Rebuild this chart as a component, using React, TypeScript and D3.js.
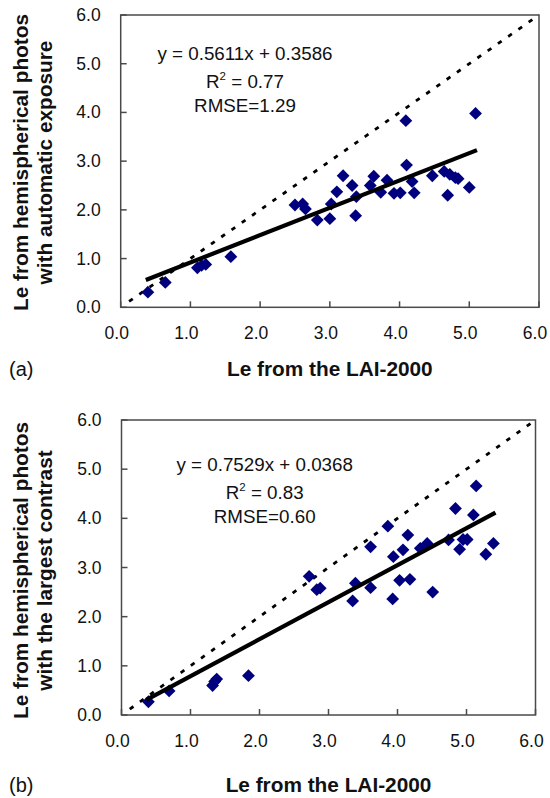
import React from "react";
import * as d3 from "d3";

const tickValues = [0, 1, 2, 3, 4, 5, 6];
const tickLabels = ["0.0", "1.0", "2.0", "3.0", "4.0", "5.0", "6.0"];

const topX = [0.39, 0.64, 1.10, 1.16, 1.22, 1.58, 2.50, 2.61, 2.65, 2.82, 3.00, 3.02, 3.10, 3.19, 3.32, 3.38, 3.37, 3.58, 3.63, 3.73, 3.82, 3.92, 4.01, 4.09, 4.10, 4.18, 4.21, 4.47, 4.64, 4.69, 4.72, 4.80, 4.84, 5.00, 5.09];
const topY = [0.31, 0.51, 0.81, 0.86, 0.88, 1.04, 2.10, 2.12, 2.02, 1.79, 1.82, 2.12, 2.37, 2.70, 2.50, 2.27, 1.88, 2.50, 2.69, 2.36, 2.61, 2.34, 2.35, 3.83, 2.92, 2.58, 2.35, 2.70, 2.79, 2.30, 2.73, 2.66, 2.64, 2.46, 3.98];

const bottomX = [0.39, 0.69, 1.32, 1.35, 1.38, 1.84, 2.72, 2.83, 2.88, 3.35, 3.39, 3.61, 3.61, 3.86, 3.93, 3.94, 4.03, 4.08, 4.15, 4.18, 4.33, 4.43, 4.51, 4.74, 4.84, 4.90, 4.95, 5.01, 5.10, 5.14, 5.28, 5.39];
const bottomY = [0.27, 0.49, 0.60, 0.68, 0.73, 0.80, 2.82, 2.55, 2.58, 2.32, 2.68, 3.42, 2.59, 3.84, 2.36, 3.22, 2.74, 3.36, 3.66, 2.76, 3.39, 3.49, 2.50, 3.56, 4.20, 3.37, 3.57, 3.57, 4.07, 4.66, 3.27, 3.49];

const topFit = { slope: 0.5611, intercept: 0.3586, from: 0.36, to: 5.11 };
const bottomFit = { slope: 0.7529, intercept: 0.0368, from: 0.36, to: 5.42 };

const topStats = { eq: "y = 0.5611x + 0.3586", r2: "0.77", rmse: "RMSE=1.29" };
const bottomStats = { eq: "y = 0.7529x + 0.0368", r2: "0.83", rmse: "RMSE=0.60" };

const topYLabel = ["Le from hemispherical photos", "with automatic exposure"];
const bottomYLabel = ["Le from hemispherical photos", "with the largest contrast"];
const xLabel = "Le from the LAI-2000";

const FONT = "'Liberation Sans', Arial, Helvetica, sans-serif";

type PanelProps = {
  left: number; right: number; top: number; bottom: number;
  xs: number[]; ys: number[];
  fit: { slope: number; intercept: number; from: number; to: number };
  stats: { eq: string; r2: string; rmse: string };
  yLabel: string[];
  letter: string;
  eqX: number; eqY: number[];
  xTickBase: number; xLabelBase: number;
  yLabelCenter: number;
};

function Panel(p: PanelProps) {
  const x = d3.scaleLinear().domain([0, 6]).range([p.left, p.right]);
  const y = d3.scaleLinear().domain([0, 6]).range([p.bottom, p.top]);
  const line = d3.line<[number, number]>().x(d => x(d[0])).y(d => y(d[1]));
  const fitPts: [number, number][] = [
    [p.fit.from, p.fit.slope * p.fit.from + p.fit.intercept],
    [p.fit.to, p.fit.slope * p.fit.to + p.fit.intercept],
  ];
  const onePts: [number, number][] = [[0.12, 0.12], [6, 6]];
  const r = 6.4;
  const axisColor = "#4a4a4a";
  return (
    <g>
      <path d={line(onePts) || ""} stroke="#000" strokeWidth={2.8} strokeDasharray="4.5,8" fill="none" />
      {p.xs.map((xv, i) => {
        const cx = x(xv), cy = y(p.ys[i]);
        return (
          <path key={i} d={`M${cx},${cy - r}L${cx + r},${cy}L${cx},${cy + r}L${cx - r},${cy}Z`} fill="#00007f" />
        );
      })}
      <path d={line(fitPts) || ""} stroke="#000" strokeWidth={4.2} fill="none" />
      <rect x={p.left} y={p.top} width={p.right - p.left} height={p.bottom - p.top} fill="none" stroke={axisColor} strokeWidth={1.5} />
      {tickValues.map((t, i) => (
        <g key={"t" + i}>
          <line x1={x(t)} x2={x(t)} y1={p.bottom} y2={p.bottom - 6} stroke={axisColor} strokeWidth={1.5} />
          <line x1={p.left} x2={p.left + 6} y1={y(t)} y2={y(t)} stroke={axisColor} strokeWidth={1.5} />
          <text x={x(t) - 4} y={p.xTickBase} textAnchor="middle" fontSize={17.5} fontFamily={FONT} fill="#111">{tickLabels[i]}</text>
          <text x={p.left - 20} y={y(t) + 6} textAnchor="end" fontSize={17.5} fontFamily={FONT} fill="#111">{tickLabels[i]}</text>
        </g>
      ))}
      <text x={p.eqX} y={p.eqY[0]} textAnchor="middle" fontSize={18.8} fontFamily={FONT} fill="#111">{p.stats.eq}</text>
      <text x={p.eqX} y={p.eqY[1]} textAnchor="middle" fontSize={18.8} fontFamily={FONT} fill="#111">
        R<tspan fontSize={11.5} dy={-8}>2</tspan><tspan dy={8}>{" = " + p.stats.r2}</tspan>
      </text>
      <text x={p.eqX} y={p.eqY[2]} textAnchor="middle" fontSize={18.8} fontFamily={FONT} fill="#111">{p.stats.rmse}</text>
      <text x={(p.left + p.right) / 2} y={p.xLabelBase} textAnchor="middle" fontSize={20.8} fontWeight="bold" fontFamily={FONT} fill="#111">{xLabel}</text>
      <text x={9} y={p.xLabelBase} fontSize={20} fontFamily={FONT} fill="#111">{p.letter}</text>
      <g transform={`translate(0,${p.yLabelCenter}) rotate(-90)`}>
        <text x={0} y={28} textAnchor="middle" fontSize={20.8} fontWeight="bold" fontFamily={FONT} fill="#111">{p.yLabel[0]}</text>
        <text x={0} y={52} textAnchor="middle" fontSize={20.8} fontWeight="bold" fontFamily={FONT} fill="#111">{p.yLabel[1]}</text>
      </g>
    </g>
  );
}

export default function App() {
  return (
    <svg width={550} height={798} style={{ position: "absolute", left: 0, top: 0, background: "#fff" }}>
      <rect x={0} y={0} width={550} height={798} fill="#fff" />
      <Panel left={120.7} right={539} top={15} bottom={307.3} xs={topX} ys={topY} fit={topFit} stats={topStats}
        yLabel={topYLabel} letter="(a)" eqX={245} eqY={[59.5, 87.5, 111.7]}
        xTickBase={339} xLabelBase={376} yLabelCenter={162.5} />
      <Panel left={121.5} right={535.5} top={420} bottom={715} xs={bottomX} ys={bottomY} fit={bottomFit} stats={bottomStats}
        yLabel={bottomYLabel} letter="(b)" eqX={264.7} eqY={[470.7, 499, 523.3]}
        xTickBase={747} xLabelBase={792} yLabelCenter={570.5} />
    </svg>
  );
}
